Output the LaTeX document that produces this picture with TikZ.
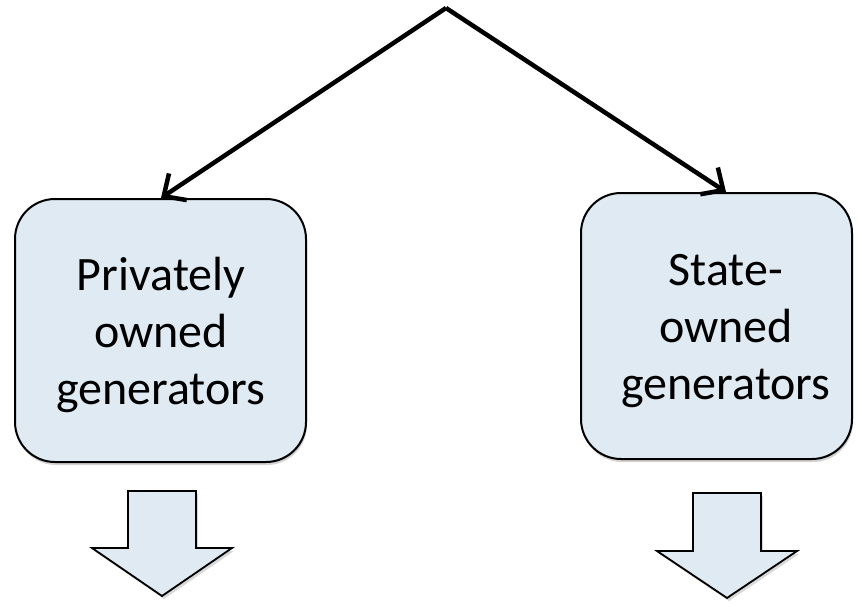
\documentclass[tikz,border=0pt]{standalone}
\usepackage{fontspec}
\setmainfont{Carlito}
\usepackage{xcolor}
\usepackage{tikz}
\usetikzlibrary{arrows.meta, calc, positioning, shadows}

\definecolor{boxfill}{RGB}{223,234,242}

\begin{document}
\begin{tikzpicture}[x=1pt, y=-1pt,
  genbox/.style={draw=black, line width=2pt, fill=boxfill, rounded corners=40pt,
    drop shadow={opacity=0.35, shadow xshift=1pt, shadow yshift=-3pt}},
  gentext/.style={align=center, font=\fontsize{48}{57}\selectfont},
  link/.style={line width=4.5pt, -{Straight Barb[length=17pt, width=32pt]}},
  downarrow/.style={draw=black, line width=1.8pt, fill=boxfill,
    drop shadow={opacity=0.3, shadow xshift=2pt, shadow yshift=-3pt}}]

\useasboundingbox (0,0) rectangle (862,610);

% Privately owned generators
\node[genbox, minimum width=291pt, minimum height=263pt] (private) at (160.5,330.5) {};
\node[gentext] (privtxt) at (161,335) {Privately\\owned\\generators};

% State-owned generators
\node[genbox, minimum width=271pt, minimum height=266pt] (state) at (716.5,326) {};
\node[gentext] (statetxt) at (726,331) {State-\\owned\\generators};

% Top branch
\coordinate (apex) at (446,8);
\draw[link] (apex) -- (private.north -| privtxt);
\draw[link] (apex) -- (state.north -| statetxt);

% Block arrows below
\draw[downarrow] (128,491) -- (196,491) -- (196,548) -- (232,548) -- (162,596)
  -- (92,548) -- (128,548) -- cycle;
\draw[downarrow] (693,493) -- (761,493) -- (761,551) -- (797,551) -- (727,598)
  -- (657,551) -- (693,551) -- cycle;

\end{tikzpicture}
\end{document}
